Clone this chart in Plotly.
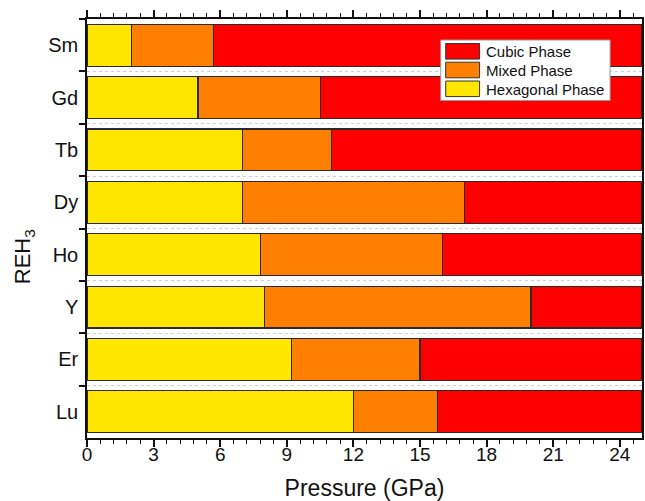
import plotly.graph_objects as go

# Data (top to bottom)
elements = ["Sm", "Gd", "Tb", "Dy", "Ho", "Y", "Er", "Lu"]
hex_end = [2.0, 5.0, 7.0, 7.0, 7.8, 8.0, 9.2, 12.0]          # GPa, end of hexagonal phase
mixed_end = [5.7, 10.5, 11.0, 17.0, 16.0, 20.0, 15.0, 15.8]  # GPa, end of mixed phase
p_max = 25.0
x_ticks = [0, 3, 6, 9, 12, 15, 18, 21, 24]
phase_names = ["Cubic Phase", "Mixed Phase", "Hexagonal Phase"]
phase_colors = ["#FF0000", "#FF8000", "#FFE600"]

hex_w = hex_end
mixed_w = [m - h for m, h in zip(mixed_end, hex_end)]
cubic_w = [p_max - m for m in mixed_end]

line = dict(color="#2a2a2a", width=1.1)
fig = go.Figure()
for name, col, w in [("Hexagonal Phase", "#FFE600", hex_w),
                     ("Mixed Phase", "#FF8000", mixed_w),
                     ("Cubic Phase", "#FF0000", cubic_w)]:
    fig.add_trace(go.Bar(y=elements, x=w, orientation="h", name=name,
                         marker=dict(color=col, line=line), showlegend=False))

# plot area in pixels
L, R, T, B = 87, 644, 19, 438
W, H = 645, 501
def px(xp):
    return (xp - L) / (R - L)
def py(yp):
    return (B - yp) / (B - T)

font = "Liberation Sans, Arial, sans-serif"

# Legend drawn as box + swatches + text
shapes = [dict(type="rect", xref="paper", yref="paper", x0=px(442), x1=px(612),
               y0=py(100.5), y1=py(40), fillcolor="white",
               line=dict(color="#999999", width=1), layer="above")]
annotations = []
row_centers = [51.3, 70.0, 88.8]
for name, col, yc in zip(phase_names, phase_colors, row_centers):
    shapes.append(dict(type="rect", xref="paper", yref="paper",
                       x0=px(447), x1=px(481), y0=py(yc + 7.8), y1=py(yc - 7.8),
                       fillcolor=col, line=dict(color="#333333", width=1), layer="above"))
    annotations.append(dict(xref="paper", yref="paper", x=px(485), y=py(yc + 0.5),
                            xanchor="left", yanchor="middle", text=name, showarrow=False,
                            font=dict(size=15, family=font, color="#111111")))

# y title
annotations.append(dict(xref="paper", yref="paper", x=px(24), y=py(257),
                        xanchor="center", yanchor="middle", textangle=-90,
                        text="REH<sub>3</sub>", showarrow=False,
                        font=dict(size=22, family=font, color="#111111")))

fig.update_layout(
    width=W, height=H,
    barmode="stack", bargap=0.2,
    margin=dict(l=L, r=W - R, t=T, b=H - B),
    plot_bgcolor="white", paper_bgcolor="white",
    font=dict(family=font, color="#111111"),
    showlegend=False,
    shapes=shapes, annotations=annotations,
    xaxis=dict(range=[0, p_max], tickvals=x_ticks, ticks="outside", ticklen=7,
               tickwidth=1.5, tickcolor="#111111",
               minor=dict(dtick=0.6, tick0=0, ticks="outside", ticklen=4,
                          tickwidth=1.2, tickcolor="#111111", showgrid=False),
               showline=True, linecolor="#111111", linewidth=1.5, mirror="ticks",
               showgrid=False, zeroline=False,
               tickfont=dict(size=19), ticklabelstandoff=-9,
               title=dict(text="Pressure (GPa)", font=dict(size=23), standoff=16)),
    yaxis=dict(categoryorder="array", categoryarray=elements, autorange="reversed",
               tickson="boundaries", ticks="outside", ticklen=6, tickwidth=1.5,
               tickcolor="#111111",
               showline=True, linecolor="#111111", linewidth=1.5, mirror=True,
               showgrid=True, gridcolor="#d0d0d0", griddash="dot", gridwidth=1,
               tickfont=dict(size=20), ticklabelstandoff=3),
)

fig.write_html("out.html")
